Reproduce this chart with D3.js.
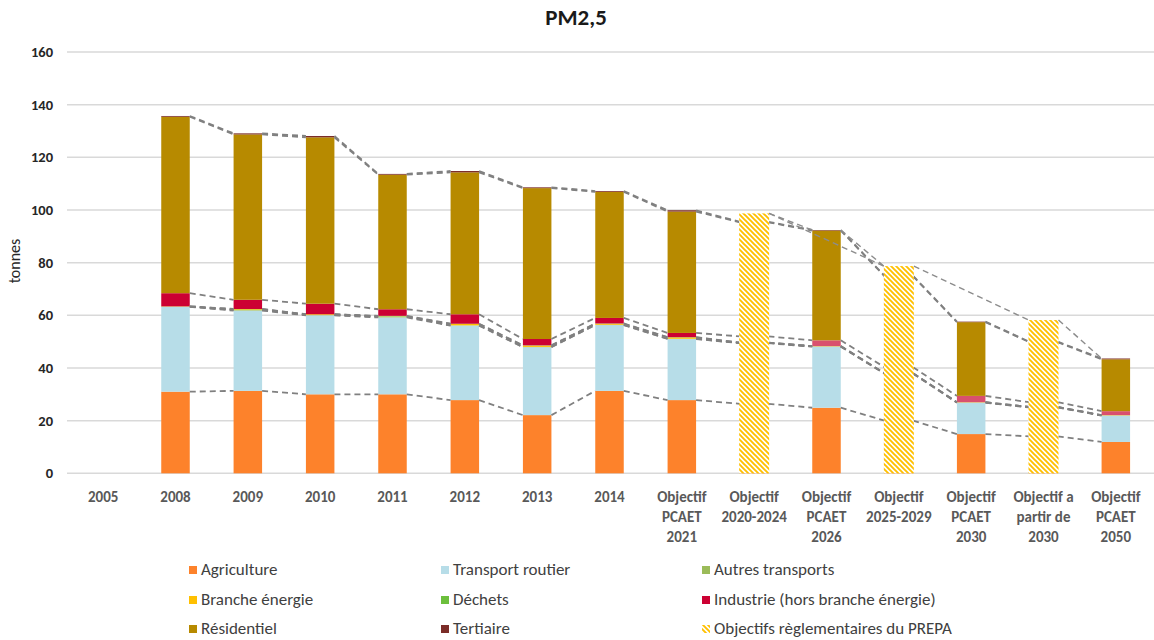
<!DOCTYPE html>
<html>
<head>
<meta charset="utf-8">
<script src="https://cdn.jsdelivr.net/npm/d3@7"></script>
<style>
  body { margin: 0; background: #fff; }
  svg { font-family: Carlito, Calibri, Lato, "Open Sans", sans-serif; }
</style>
</head>
<body>
<div id="chart"></div>
<script>
// categories (one label line per entry)
const categories = [
  ["2005"], ["2008"], ["2009"], ["2010"], ["2011"], ["2012"], ["2013"], ["2014"],
  ["Objectif", "PCAET", "2021"], ["Objectif", "2020-2024"], ["Objectif", "PCAET", "2026"],
  ["Objectif", "2025-2029"], ["Objectif", "PCAET", "2030"], ["Objectif a", "partir de", "2030"],
  ["Objectif", "PCAET", "2050"]
];

// tonnes de PM2,5 par secteur (valeurs sous les barres hachurées cachées)
const agriculture = [null, 31.0, 31.3, 30.0, 30.0, 27.8, 22.1, 31.3, 27.8, 26.4, 24.9, 20.0, 14.9, 14.0, 11.9];
const transportRoutier = [null, 32.2, 30.5, 30.0, 29.2, 28.3, 25.8, 25.0, 23.2, 23.0, 23.2, 17.8, 11.9, 11.0, 10.0];
const autresTransports = [null, 0.1, 0.2, 0.1, 0.3, 0.1, 0.1, 0.1, 0.1, 0.1, 0.1, 0.1, 0.1, 0.1, 0.1];
const brancheEnergie = [null, 0.1, 0.3, 0.3, 0.1, 0.5, 0.5, 0.4, 0.5, 0.1, 0.1, 0.1, 0.1, 0.1, 0.1];
const dechets = [null, 0.0, 0.1, 0.0, 0.2, 0.1, 0.1, 0.1, 0.1, 0.0, 0.0, 0.0, 0.0, 0.0, 0.0];
const industrie = [null, 5.0, 3.5, 4.0, 2.5, 3.6, 2.4, 2.1, 1.6, 2.4, 2.2, 2.3, 2.4, 1.8, 1.5];
const residentiel = [null, 67.0, 62.8, 63.2, 51.1, 53.9, 57.3, 47.9, 46.1, 43.3, 41.7, 34.5, 28.0, 22.8, 19.7];
const tertiaire = [null, 0.3, 0.4, 0.5, 0.3, 0.5, 0.3, 0.3, 0.5, 0.2, 0.2, 0.2, 0.2, 0.2, 0.3];
// objectifs réglementaires du PREPA
const prepa = [null, null, null, null, null, null, null, null, null, 98.7, null, 78.7, null, 58.2, null];
// liens pointillés entre objectifs (index de catégorie)
const liensObjectifs = [[9, 10], [10, 11], [9, 11], [11, 13], [13, 14]];

const yTicks = [0, 20, 40, 60, 80, 100, 120, 140, 160];

const series = [
  { name: "Agriculture", values: agriculture, color: "#fd822b" },
  { name: "Transport routier", values: transportRoutier, color: "#b7dde8" },
  { name: "Autres transports", values: autresTransports, color: "#9bbb59" },
  { name: "Branche énergie", values: brancheEnergie, color: "#ffc000" },
  { name: "Déchets", values: dechets, color: "#6cbf3c" },
  { name: "Industrie (hors branche énergie)", values: industrie, color: "#cc0033" },
  { name: "Résidentiel", values: residentiel, color: "#b78a00" },
  { name: "Tertiaire", values: tertiaire, color: "#7b2c28" }
];
// objectifs PCAET futurs : industrie plus claire
const industrieClaire = [10, 12, 14];

const width = 1154, height = 640;
const svg = d3.select("#chart").append("svg")
  .attr("width", width).attr("height", height);

const x = d3.scaleBand()
  .domain(d3.range(categories.length))
  .range([67, 1152]);
const y = d3.scaleLinear().domain([0, 160]).range([473.3, 52]);

const barW = 28.5, hatchW = 30;
const cx = i => x(i) + x.bandwidth() / 2;

// hatch pattern
const defs = svg.append("defs");
const pat = defs.append("pattern")
  .attr("id", "hatch")
  .attr("patternUnits", "userSpaceOnUse")
  .attr("width", 5).attr("height", 5);
pat.append("rect").attr("width", 5).attr("height", 5).attr("fill", "#fff");
pat.append("path")
  .attr("d", "M-1,-1 L6,6 M-1,4 L1,6 M4,-1 L6,1")
  .attr("stroke", "#ffc000").attr("stroke-width", 1.9);

// title
svg.append("text")
  .attr("x", 576).attr("y", 25)
  .attr("text-anchor", "middle")
  .style("font-size", "23px").style("font-weight", "bold").style("fill", "#1a1a1a")
  .text("PM2,5");

// gridlines + y labels
svg.append("g").selectAll("line")
  .data(yTicks).enter()
  .append("line")
  .attr("x1", 67).attr("x2", 1154)
  .attr("y1", d => y(d)).attr("y2", d => y(d))
  .attr("stroke", "#d9d9d9").attr("stroke-width", 1.5);

svg.append("g").selectAll("text")
  .data(yTicks).enter()
  .append("text")
  .attr("x", 53).attr("y", d => y(d) + 5)
  .attr("text-anchor", "end")
  .style("font-size", "14.5px").style("font-weight", "bold").style("fill", "#262626")
  .text(d => d);

svg.append("text")
  .attr("transform", "translate(20,261) rotate(-90)")
  .attr("text-anchor", "middle")
  .style("font-size", "16px").style("fill", "#262626")
  .text("tonnes");

// stacked data
const rows = categories.map((c, i) => {
  const r = { i: i };
  series.forEach((s, k) => r[k] = s.values[i] == null ? 0 : s.values[i]);
  return r;
});
const stack = d3.stack().keys(series.map((s, k) => k))(rows);

// bars
stack.forEach((layer, k) => {
  svg.append("g").selectAll("rect")
    .data(layer.filter(d => series[k].values[d.data.i] != null))
    .enter()
    .append("rect")
    .attr("x", d => cx(d.data.i) - barW / 2)
    .attr("width", barW)
    .attr("y", d => y(d[1]))
    .attr("height", d => Math.max(0, y(d[0]) - y(d[1])))
    .attr("fill", d => (k == 5 && industrieClaire.includes(d.data.i)) ? "#d9506e" : series[k].color);
});

// series lines (top of each layer)
const lineGroup = svg.append("g")
  .attr("fill", "none").attr("stroke", "#808080")
  .attr("stroke-width", 1.8).attr("stroke-dasharray", "6,4");
stack.forEach(layer => {
  for (let i = 1; i < categories.length - 1; i++) {
    lineGroup.append("line")
      .attr("x1", cx(i) + barW / 2).attr("y1", y(layer[i][1]))
      .attr("x2", cx(i + 1) - barW / 2).attr("y2", y(layer[i + 1][1]));
  }
});

// PREPA hatched bars
svg.append("g").selectAll("rect")
  .data(prepa.map((v, i) => ({ i: i, v: v })).filter(d => d.v != null))
  .enter()
  .append("rect")
  .attr("x", d => cx(d.i) - hatchW / 2)
  .attr("width", hatchW)
  .attr("y", d => y(d.v))
  .attr("height", d => y(0) - y(d.v))
  .attr("fill", "url(#hatch)");

// lines between objectives
const sommet = i => prepa[i] != null ? prepa[i] : stack[stack.length - 1][i][1];
const demiLarg = i => prepa[i] != null ? hatchW / 2 : barW / 2;
svg.append("g").selectAll("line")
  .data(liensObjectifs).enter()
  .append("line")
  .attr("x1", d => cx(d[0]) + demiLarg(d[0])).attr("y1", d => y(sommet(d[0])))
  .attr("x2", d => cx(d[1]) - demiLarg(d[1])).attr("y2", d => y(sommet(d[1])))
  .attr("stroke", "#8c8c8c").attr("stroke-width", 1.4).attr("stroke-dasharray", "6,4");

// x labels
const xl = svg.append("g").selectAll("text")
  .data(categories).enter()
  .append("text")
  .attr("text-anchor", "middle")
  .style("font-size", "15px").style("font-weight", "bold").style("fill", "#595959");
xl.each(function (lines, i) {
  d3.select(this).selectAll("tspan").data(lines).enter()
    .append("tspan")
    .attr("x", cx(i))
    .attr("y", (d, j) => 502 + j * 20)
    .text(d => d);
});

// legend
const legendItems = series.map(s => ({ name: s.name, color: s.color }));
legendItems.push({ name: "Objectifs règlementaires du PREPA", color: "url(#hatch)" });
const legX = [189, 441, 702], legY = [570, 600, 629];
const leg = svg.append("g").selectAll("g")
  .data(legendItems).enter()
  .append("g")
  .attr("transform", (d, i) => `translate(${legX[i % 3]},${legY[Math.floor(i / 3)]})`);
leg.append("rect")
  .attr("x", 0).attr("y", -4).attr("width", 8).attr("height", 8)
  .attr("fill", d => d.color);
leg.append("text")
  .attr("x", 12).attr("y", 5)
  .style("font-size", "17px").style("fill", "#404040")
  .text(d => d.name);
</script>
</body>
</html>
